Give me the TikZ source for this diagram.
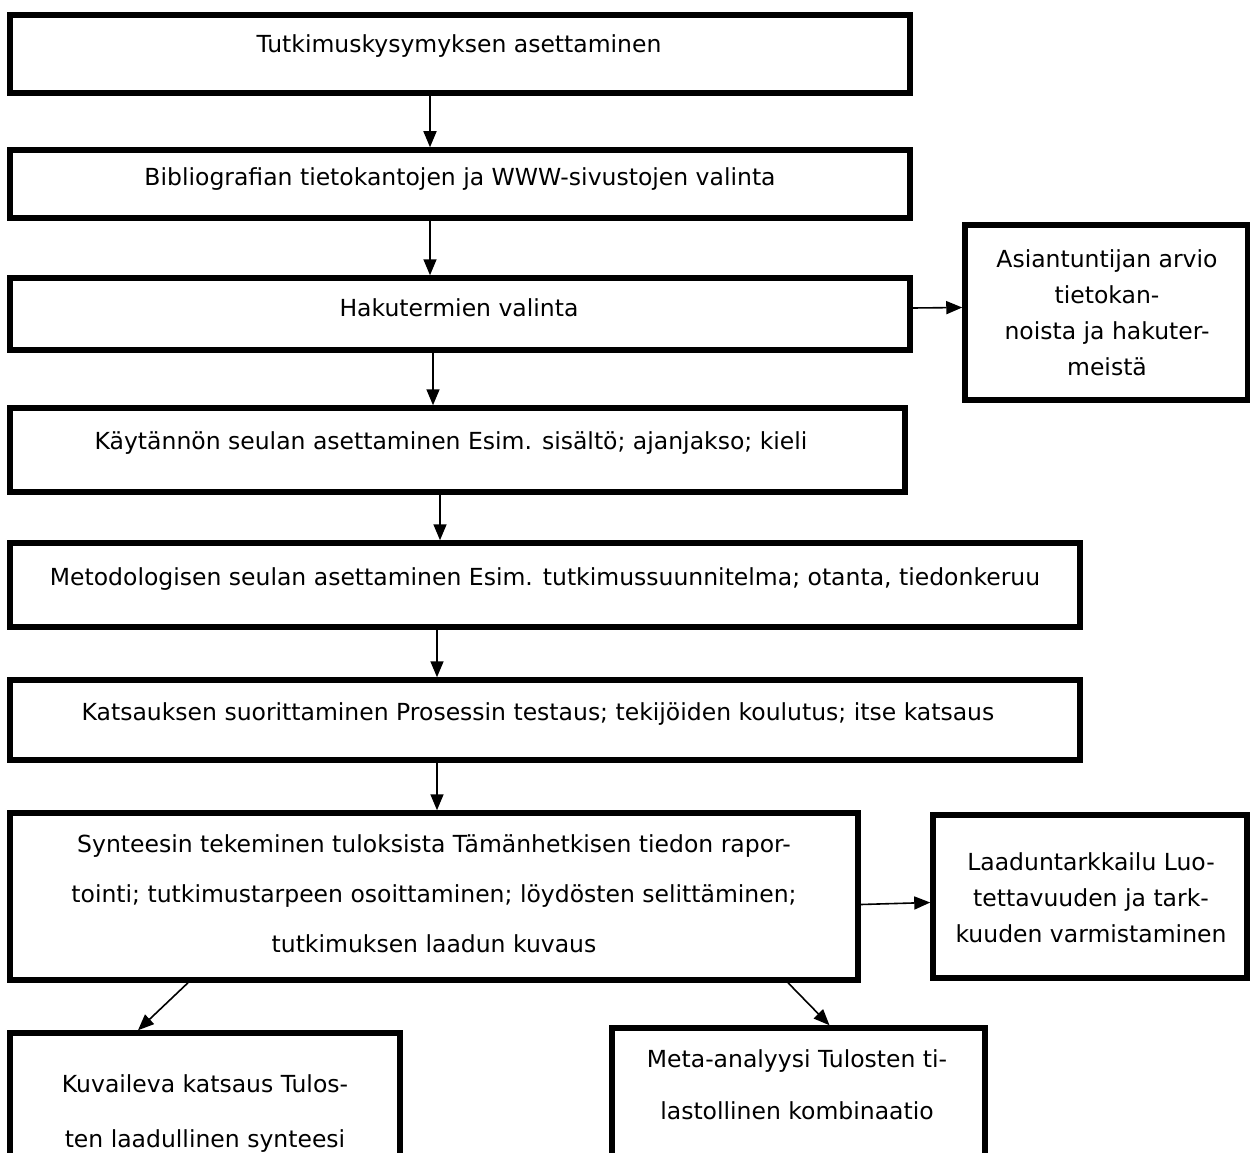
\documentclass[tikz,border=0pt]{standalone}
\usepackage{fontspec}
\setmainfont{DejaVu Sans}
\usetikzlibrary{arrows.meta}

\begin{document}
\begin{tikzpicture}[x=1pt,y=1pt,yscale=-1,xscale=1,
  box/.style={draw, line width=5.5pt, rectangle, inner sep=0pt},
  txt/.style={inner sep=0.75pt, align=center, font=\fontsize{23.5}{36}\selectfont},
  arr/.style={line width=1.6pt, -{Triangle[length=16pt,width=13pt]}}]
\useasboundingbox (0,0) rectangle (1250,1153);
\clip (0,0) rectangle (1250,1153);

%Shape: Rectangle
\node [box, minimum width=900pt, minimum height=78pt] (b1) at (460,54) {};
%Shape: Rectangle
\node [box, minimum width=900pt, minimum height=68pt] (b2) at (460,184) {};
%Shape: Rectangle
\node [box, minimum width=900pt, minimum height=72pt] (b3) at (460,314) {};
%Shape: Rectangle
\node [box, minimum width=895pt, minimum height=84pt] (b4) at (457.5,450) {};
%Shape: Rectangle
\node [box, minimum width=1070pt, minimum height=84pt] (b5) at (545,585) {};
%Shape: Rectangle
\node [box, minimum width=1070pt, minimum height=80pt] (b6) at (545,720) {};
%Shape: Rectangle
\node [box, minimum width=848pt, minimum height=167pt] (b7) at (434,896.5) {};
%Shape: Rectangle
\node [box, minimum width=283pt, minimum height=175pt] (exp) at (1106.5,312.5) {};
%Shape: Rectangle
\node [box, minimum width=314pt, minimum height=163pt] (qc) at (1090,896.5) {};
%Shape: Rectangle
\node [box, minimum width=390pt, minimum height=160pt] (desc) at (205,1113) {};
%Shape: Rectangle
\node [box, minimum width=373pt, minimum height=160pt] (meta) at (798.5,1108) {};

% Text Node
\node [txt] (t1) at (459,46) {Tutkimuskysymyksen asettaminen};
% Text Node
\node [txt] (t2) at (460,179) {Bibliografian tietokantojen ja WWW-sivustojen valinta};
% Text Node
\node [txt] (t3) at (459,308) {Hakutermien valinta};
% Text Node
\node [txt] (t4) at (451,443) {Käytännön seulan asettaminen Esim. sisältö; ajanjakso; kieli};
% Text Node
\node [txt] (t5) at (545,579) {Metodologisen seulan asettaminen Esim. tutkimussuunnitelma; otanta, tiedonkeruu};
% Text Node
\node [txt] (t6) at (538,714) {Katsauksen suorittaminen Prosessin testaus; tekijöiden koulutus; itse katsaus};
% Text Node
\node [txt, font=\fontsize{23.5}{50}\selectfont] (t7) at (434,894) {Synteesin tekeminen tuloksista Tämänhetkisen tiedon rapor-\\tointi; tutkimustarpeen osoittaminen; löydösten selittäminen;\\tutkimuksen laadun kuvaus};
% Text Node
\node [txt] (texp) at (1107,313) {Asiantuntijan arvio\\tietokan-\\noista ja hakuter-\\meistä};
% Text Node
\node [txt] (tqc) at (1091,898) {Laaduntarkkailu Luo-\\tettavuuden ja tark-\\kuuden varmistaminen};
% Text Node
\node [txt, font=\fontsize{23.5}{55}\selectfont] (tdesc) at (205,1114) {Kuvaileva katsaus Tulos-\\ten laadullinen synteesi};
% Text Node
\node [txt, font=\fontsize{23.5}{52}\selectfont] (tmeta) at (797,1085) {Meta-analyysi Tulosten ti-\\lastollinen kombinaatio};

%Straight Lines
\draw [arr] ([xshift=-30pt]b1.south) -- ([xshift=-30pt]b2.north);
\draw [arr] ([xshift=-30pt]b2.south) -- ([xshift=-30pt]b3.north);
\draw [arr] ([xshift=-27pt]b3.south) -- ([xshift=-24.5pt]b4.north);
\draw [arr] ([xshift=-17.5pt]b4.south) -- ([xshift=-105pt]b5.north);
\draw [arr] ([xshift=-108pt]b5.south) -- ([xshift=-108pt]b6.north);
\draw [arr] ([xshift=-108pt]b6.south) -- ([xshift=3pt]b7.north);
\draw [arr] ([yshift=-6pt]b3.east) -- ([yshift=-5pt]exp.west);
\draw [arr] ([yshift=8pt]b7.east) -- ([yshift=6pt]qc.west);
\draw [arr] ([xshift=-246pt]b7.south) -- ([xshift=-67pt]desc.north);
\draw [arr] ([xshift=354pt]b7.south) -- ([xshift=31pt]meta.north);

\end{tikzpicture}
\end{document}
